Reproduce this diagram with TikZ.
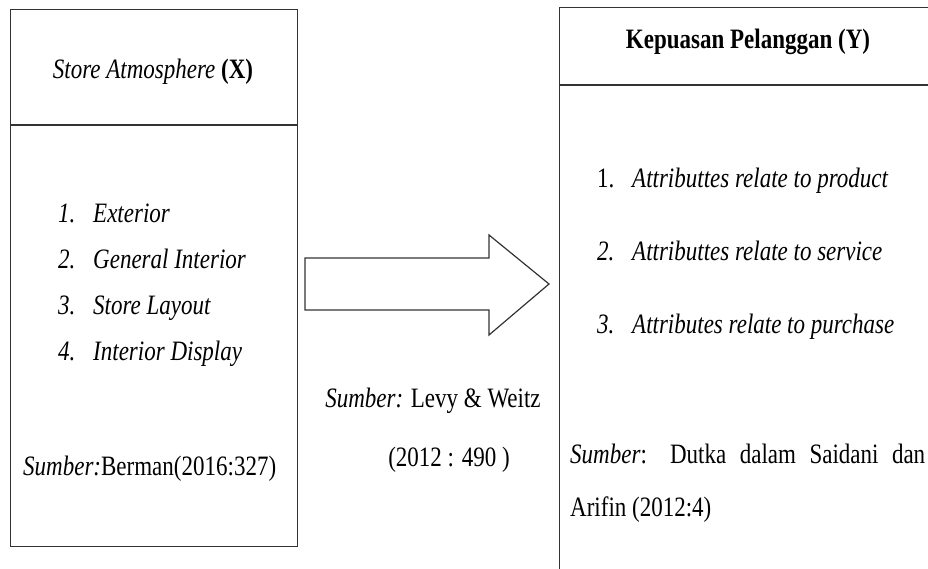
\documentclass[tikz,border=0pt]{standalone}
\usepackage{fontspec}
\setmainfont{Liberation Serif}
\begin{document}
\begin{tikzpicture}[x=1pt,y=-1pt,
  line/.style={draw=black!80, line width=1.4pt},
  txt/.style={inner sep=0pt, font=\fontsize{23}{27}\selectfont, yscale=1.22, transform shape},
  box/.style={line, inner sep=0pt}]
\useasboundingbox (0,0) rectangle (928,569);
\clip (0,0) rectangle (928,569);
% left box
\node[box, minimum width=287pt, minimum height=537pt, anchor=north west] (bx) at (10,9) {};
\coordinate (dxl) at (10,125);
\coordinate (dxr) at (297,125);
\draw[line] (dxl) -- (dxr);
\node[txt] (tx) at (153,72) {\textit{Store Atmosphere} \textbf{(X)}};
\node[txt, anchor=base west] (n1) at (58,223) {\textit{1.}};
\node[txt, anchor=base west] (i1) at (93,223) {\textit{Exterior}};
\node[txt, anchor=base west] (n2) at (58,269) {\textit{2.}};
\node[txt, anchor=base west] (i2) at (93,269) {\textit{General Interior}};
\node[txt, anchor=base west] (n3) at (58,314) {\textit{3.}};
\node[txt, anchor=base west] (i3) at (93,314) {\textit{Store Layout}};
\node[txt, anchor=base west] (n4) at (58,360) {\textit{4.}};
\node[txt, anchor=base west] (i4) at (93,360) {\textit{Interior Display}};
\node[txt, anchor=base west] (sx) at (23,475) {\textit{Sumber:}Berman(2016:327)};
% right box
\node[box, minimum width=400pt, minimum height=600pt, anchor=north west] (by) at (559,7) {};
\coordinate (dyl) at (559,85);
\coordinate (dyr) at (940,85);
\draw[line] (dyl) -- (dyr);
\node[txt] (ty) at (748,42) {\textbf{Kepuasan Pelanggan (Y)}};
\node[txt, anchor=base west] (m1) at (597,188) {1.};
\node[txt, anchor=base west] (j1) at (632,188) {\textit{Attributtes relate to product}};
\node[txt, anchor=base west] (m2) at (597,261) {\textit{2.}};
\node[txt, anchor=base west] (j2) at (632,261) {\textit{Attributtes relate to service}};
\node[txt, anchor=base west] (m3) at (597,333) {\textit{3.}};
\node[txt, anchor=base west] (j3) at (632,333) {\textit{Attributes relate to purchase}};
\node[txt, anchor=base west] (sy1) at (570,463) {\makebox[355pt][s]{\textit{Sumber}: Dutka dalam Saidani dan}};
\node[txt, anchor=base west] (sy2) at (570,516) {Arifin (2012:4)};
% arrow
\draw[line, line width=1.2pt, line join=miter] (305,258) -- (489,258) -- (489,235) -- (549,284) -- (489,335) -- (489,310) -- (305,310) -- cycle;
\node[txt] (src1) at (433,401) {\textit{Sumber:} Levy \& Weitz};
\node[txt] (src2) at (449,460) {(2012 : 490 )};
\end{tikzpicture}
\end{document}
